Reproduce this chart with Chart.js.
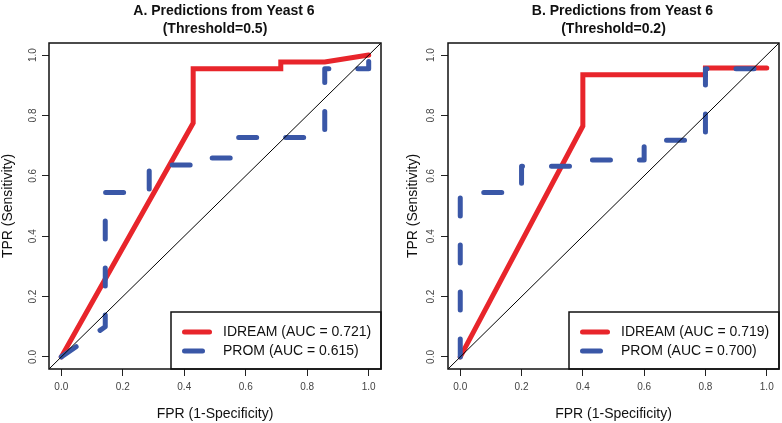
<!DOCTYPE html>
<html>
<head>
<meta charset="utf-8">
<script src="https://cdn.jsdelivr.net/npm/chart.js@4.4.0/dist/chart.umd.min.js"></script>
<style>
  body { margin: 0; background: #fff; }
  #wrap { position: relative; width: 782px; height: 423px; }
  canvas { position: absolute; top: 0; }
</style>
</head>
<body>
<div id="wrap">
  <canvas id="chartA" width="391" height="423" style="left:0"></canvas>
  <canvas id="chartB" width="391" height="423" style="left:391px"></canvas>
</div>
<script>
// values
const tickValues = [0, 0.2, 0.4, 0.6, 0.8, 1.0];
const modelNames = ['IDREAM', 'PROM'];
const chanceLine = [-0.1, 1.1];

// Panel A (threshold 0.5)
const titleA = ['A. Predictions from Yeast 6', '(Threshold=0.5)'];
const aucA = [0.721, 0.615];
const idreamFprA = [0, 0.429, 0.429, 0.714, 0.714, 0.857, 1];
const idreamTprA = [0, 0.775, 0.955, 0.955, 0.977, 0.977, 1];
const promFprA = [0, 0.143, 0.143, 0.286, 0.286, 0.429, 0.429, 0.571, 0.571, 0.857, 0.857, 1, 1];
const promTprA = [0, 0.1, 0.545, 0.545, 0.636, 0.636, 0.659, 0.659, 0.727, 0.727, 0.955, 0.955, 1];

// Panel B (threshold 0.2)
const titleB = ['B. Predictions from Yeast 6', '(Threshold=0.2)'];
const aucB = [0.719, 0.700];
const idreamFprB = [0, 0.4, 0.4, 0.8, 0.8, 1];
const idreamTprB = [0, 0.765, 0.935, 0.935, 0.957, 0.957];
const promFprB = [0, 0, 0.2, 0.2, 0.4, 0.4, 0.6, 0.6, 0.8, 0.8, 1, 1];
const promTprB = [0, 0.545, 0.545, 0.632, 0.632, 0.652, 0.652, 0.718, 0.718, 0.955, 0.955, 1];

const RED = '#E8252B';
const BLUE = '#3A57A7';
const FONT = "'Liberation Sans', Arial, Helvetica, sans-serif";
const promDash = [18, 29];

function zip(xs, ys) {
    return xs.map((x, i) => ({ x: x, y: ys[i] }));
}

// frame box, in-plot legend and two-line title (R style)
const framePlugin = {
    id: 'frame',
    afterDatasetsDraw(chart) {
        const ctx = chart.ctx;
        const a = chart.chartArea;
        const ds = chart.data.datasets;

        // legend box in bottom right corner
        const lw = 210, lh = 57;
        const lx = a.right - lw, ly = a.bottom - lh;
        ctx.save();
        ctx.fillStyle = '#fff';
        ctx.fillRect(lx, ly, lw, lh);
        ctx.lineWidth = 1.5;
        ctx.strokeStyle = '#111';
        ctx.strokeRect(lx, ly, lw, lh);

        const rows = [ds[2], ds[1]];
        rows.forEach((d, i) => {
            const y = ly + 20 + i * 19;
            ctx.beginPath();
            ctx.strokeStyle = d.borderColor;
            ctx.lineWidth = d.borderWidth;
            ctx.lineCap = 'round';
            ctx.setLineDash(d.borderDash || []);
            ctx.moveTo(lx + 13.5, y);
            ctx.lineTo(lx + 38.5, y);
            ctx.stroke();
            ctx.setLineDash([]);
            ctx.fillStyle = '#111';
            ctx.font = '14px ' + FONT;
            ctx.textBaseline = 'middle';
            ctx.textAlign = 'left';
            ctx.fillText(d.label, lx + 52, y);
        });

        // plot box
        ctx.lineWidth = 1.5;
        ctx.strokeStyle = '#111';
        ctx.strokeRect(a.left, a.top, a.right - a.left, a.bottom - a.top);
        ctx.restore();
    },
    afterDraw(chart) {
        const ctx = chart.ctx;
        const a = chart.chartArea;
        const cx = (a.left + a.right) / 2;
        const lines = chart.options.plugins.frame.lines;
        ctx.save();
        ctx.fillStyle = '#111';
        ctx.font = 'bold 14px ' + FONT;
        ctx.textAlign = 'center';
        ctx.textBaseline = 'alphabetic';
        ctx.fillText(lines[0], cx + 9, 15);
        ctx.fillText(lines[1], cx, 32.5);
        ctx.restore();
    }
};

function buildChart(id, p) {
    const ctx = document.getElementById(id);
    return new Chart(ctx, {
        type: 'line',
        data: {
            datasets: [
                {
                    label: 'chance',
                    data: zip(chanceLine, chanceLine),
                    borderColor: '#000',
                    borderWidth: 1,
                    clip: 0
                },
                {
                    label: modelNames[1] + ' (AUC = ' + p.auc[1].toFixed(3) + ')',
                    data: zip(p.promFpr, p.promTpr),
                    borderColor: BLUE,
                    borderWidth: 5,
                    borderDash: promDash,
                    borderCapStyle: 'round',
                    borderJoinStyle: 'round',
                    clip: 0
                },
                {
                    label: modelNames[0] + ' (AUC = ' + p.auc[0].toFixed(3) + ')',
                    data: zip(p.idreamFpr, p.idreamTpr),
                    borderColor: RED,
                    borderWidth: 5,
                    borderCapStyle: 'round',
                    borderJoinStyle: 'miter',
                    clip: 0
                }
            ]
        },
        options: {
            responsive: false,
            animation: false,
            devicePixelRatio: 1,
            layout: { padding: { left: p.padLeft, right: p.padRight, top: 43, bottom: 0 } },
            elements: {
                point: { radius: 0 },
                line: { tension: 0, fill: false }
            },
            plugins: {
                legend: { display: false },
                tooltip: { enabled: false },
                title: { display: false },
                frame: { lines: p.title }
            },
            scales: {
                x: {
                    type: 'linear',
                    min: -0.04,
                    max: 1.04,
                    afterBuildTicks: s => { s.ticks = tickValues.map(v => ({ value: v })); },
                    afterFit: s => { s.height = 54; },
                    border: { display: false },
                    grid: { drawOnChartArea: false, tickLength: 7, color: '#222', lineWidth: 1 },
                    ticks: {
                        padding: 5,
                        color: '#444',
                        font: { size: 10, family: FONT },
                        maxRotation: 0,
                        autoSkip: false,
                        callback: v => v.toFixed(1)
                    },
                    title: {
                        display: true,
                        text: 'FPR (1-Specificity)',
                        color: '#111',
                        font: { size: 14, family: FONT },
                        padding: { top: 2.5, bottom: 0 }
                    }
                },
                y: {
                    type: 'linear',
                    min: -0.04,
                    max: 1.04,
                    afterBuildTicks: s => { s.ticks = tickValues.map(v => ({ value: v })); },
                    afterFit: s => { s.width = p.yWidth; },
                    border: { display: false },
                    grid: { drawOnChartArea: false, tickLength: 7, color: '#222', lineWidth: 1 },
                    ticks: {
                        padding: p.yTickPad,
                        color: '#444',
                        font: { size: 10, family: FONT },
                        minRotation: 90,
                        maxRotation: 90,
                        crossAlign: 'center',
                        autoSkip: false,
                        callback: v => v.toFixed(1)
                    },
                    title: {
                        display: true,
                        text: 'TPR (Sensitivity)',
                        color: '#111',
                        font: { size: 14, family: FONT },
                        padding: { top: 0, bottom: 0 }
                    }
                }
            }
        },
        plugins: [framePlugin]
    });
}

buildChart('chartA', {
    title: titleA, auc: aucA,
    idreamFpr: idreamFprA, idreamTpr: idreamTprA,
    promFpr: promFprA, promTpr: promTprA,
    padLeft: 0, padRight: 10, yWidth: 49, yTickPad: 2
});

buildChart('chartB', {
    title: titleB, auc: aucB,
    idreamFpr: idreamFprB, idreamTpr: idreamTprB,
    promFpr: promFprB, promTpr: promTprB,
    padLeft: 14, padRight: 3, yWidth: 43, yTickPad: 3
});
</script>
</body>
</html>
